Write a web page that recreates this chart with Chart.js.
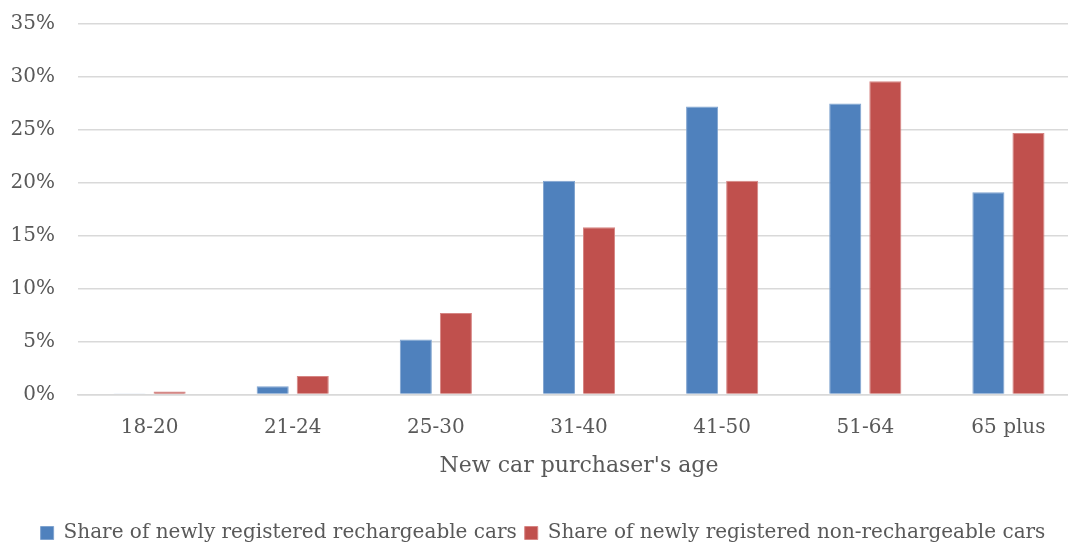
<!DOCTYPE html>
<html>
<head>
    <title>New car purchasers by age</title>
    <style>
        body { margin: 0; background: #ffffff; overflow: hidden; }
        .moldura { width: 1080px; height: 543px; overflow: hidden; }
        .chart-container { width: 1080px; height: 556px; margin-top: -11px; }
    </style>
</head>
<body>
    <div class="moldura">
        <div class="chart-container">
            <canvas id="chartIdade"></canvas>
        </div>
    </div>

    <script src="https://cdn.jsdelivr.net/npm/chart.js"></script>
    <script>
        // dados
        const faixas = ['18-20', '21-24', '25-30', '31-40', '41-50', '51-64', '65 plus'];
        const recarregaveis = [0.05, 0.8, 5.2, 20.2, 27.2, 27.5, 19.1];
        const naoRecarregaveis = [0.3, 1.75, 7.7, 15.8, 20.2, 29.6, 24.7];
        const ticksY = [0, 5, 10, 15, 20, 25, 30, 35];

        const fonte = "'DejaVu Serif', serif";
        const cinza = '#595959';

        const ctx = document.getElementById('chartIdade').getContext('2d');

        new Chart(ctx, {
            type: 'bar',
            data: {
                labels: faixas,
                datasets: [{
                    label: 'Share of newly registered rechargeable cars',
                    data: recarregaveis,
                    backgroundColor: '#4F81BD',
                    borderColor: '#7fa3cf',
                    borderWidth: 1,
                    barPercentage: 0.8,
                    categoryPercentage: 0.56
                }, {
                    label: 'Share of newly registered non-rechargeable cars',
                    data: naoRecarregaveis,
                    backgroundColor: '#C0504D',
                    borderColor: '#d68583',
                    borderWidth: 1,
                    barPercentage: 0.8,
                    categoryPercentage: 0.56
                }]
            },
            options: {
                responsive: true,
                maintainAspectRatio: false,
                animation: false,
                layout: { padding: { left: 6, right: 0, top: 0, bottom: -8 } },
                plugins: {
                    tooltip: { enabled: false },
                    legend: {
                        position: 'bottom',
                        labels: {
                            font: { family: fonte, size: 20 },
                            color: cinza,
                            boxWidth: 13,
                            boxHeight: 13,
                            padding: 8
                        }
                    }
                },
                scales: {
                    x: {
                        grid: { display: false },
                        border: { color: '#d9d9d9', width: 1.5 },
                        ticks: { font: { family: fonte, size: 20 }, color: cinza, padding: 13 },
                        title: {
                            display: true,
                            text: "New car purchaser's age",
                            font: { family: fonte, size: 22 },
                            color: cinza,
                            padding: { top: 0, bottom: 36 }
                        }
                    },
                    y: {
                        min: 0,
                        max: 35,
                        afterBuildTicks: function (eixo) {
                            eixo.ticks = ticksY.map(function (v) { return { value: v }; });
                        },
                        afterFit: function (eixo) { eixo.width = 72; },
                        grid: { color: '#d9d9d9', lineWidth: 1.5, drawTicks: false },
                        border: { display: false },
                        ticks: {
                            font: { family: fonte, size: 20 },
                            color: cinza,
                            padding: 23,
                            callback: function (v) { return v + '%'; }
                        }
                    }
                }
            }
        });
    </script>
</body>
</html>
